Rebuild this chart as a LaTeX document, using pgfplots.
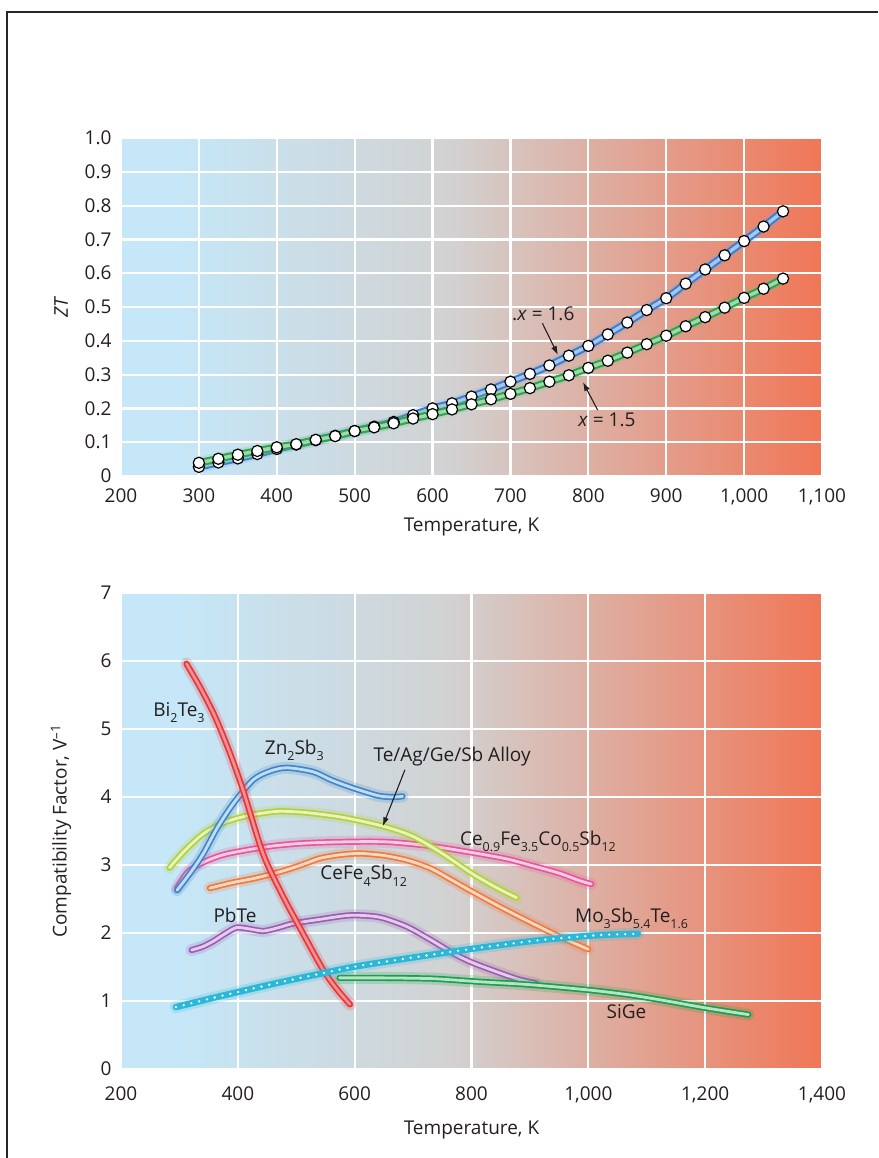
\documentclass[border=0pt]{standalone}
\usepackage{pgfplots}
\pgfplotsset{compat=1.18}
\usepackage{fontspec}
\setmainfont{Open Sans}
\usetikzlibrary{arrows.meta}

\definecolor{bgA}{HTML}{C5E7F8}
\definecolor{bgB}{HTML}{D2D2D2}
\definecolor{bgC}{HTML}{F07656}
\definecolor{txt}{HTML}{231F20}
\definecolor{cBlue}{HTML}{3A80D2}
\definecolor{cGreen}{HTML}{2CA64A}
\definecolor{cRed}{HTML}{E8373A}
\definecolor{cZn}{HTML}{3D86CC}
\definecolor{cYel}{HTML}{B2D234}
\definecolor{cPink}{HTML}{E8559C}
\definecolor{cOr}{HTML}{EF7A3A}
\definecolor{cPur}{HTML}{9D5CB4}
\definecolor{cCy}{HTML}{2BB8D8}
\definecolor{cSi}{HTML}{18A04A}

\pgfdeclarehorizontalshading{bgshade}{100bp}{color(0bp)=(bgA); color(29bp)=(bgA); color(48.5bp)=(bgB); color(75bp)=(bgC); color(100bp)=(bgC)}

\newcommand\sub[1]{\raisebox{-0.32em}{\fontsize{12.5}{12.5}\selectfont#1}}
\newcommand\lbl{\fontsize{19}{22}\selectfont}

\pgfplotsset{
  common/.style={
    scale only axis, width=701pt,
    axis line style={draw=none}, major tick length=0pt,
    grid=major, major grid style={white, line width=2.2pt},
    axis background/.style={shade, shading=bgshade},
    tick label style={font=\lbl, text=txt},
    label style={font=\lbl, text=txt},
    yticklabel style={xshift=-3pt},
    /pgf/number format/assume math mode=true,
    ylabel style={at={(axis description cs:0,0.5)}, anchor=center, yshift=60pt},
    clip=false,
  },
  glow/.style={no marks, smooth, line cap=round, line join=round, draw=#1, line width=12pt, opacity=0.2, forget plot},
  tube/.style={no marks, smooth, line cap=round, line join=round, draw=#1, line width=1.7pt, double=#1!30!white, double distance=2.8pt},
  ttube/.style={no marks, smooth, line cap=round, line join=round, draw=#1, line width=2.1pt, double=#1!45!white, double distance=3.4pt},
  dots/.style={only marks, mark=*, mark size=5.6pt, mark options={fill=white, draw=black, line width=1.2pt}},
}

\pgfplotstableread{
T zt
300 0.027
325 0.040
350 0.052
375 0.065
400 0.080
425 0.093
450 0.106
475 0.119
500 0.133
525 0.146
550 0.160
575 0.180
600 0.200
625 0.215
650 0.235
675 0.256
700 0.279
725 0.302
750 0.327
775 0.356
800 0.385
825 0.419
850 0.454
875 0.491
900 0.526
925 0.569
950 0.611
975 0.653
1000 0.695
1025 0.738
1050 0.783
}\blueSix

\pgfplotstableread{
T zt
300 0.039
325 0.051
350 0.063
375 0.074
400 0.085
425 0.094
450 0.107
475 0.118
500 0.133
525 0.144
550 0.156
575 0.170
600 0.183
625 0.197
650 0.212
675 0.227
700 0.243
725 0.260
750 0.279
775 0.298
800 0.320
825 0.341
850 0.365
875 0.390
900 0.415
925 0.443
950 0.470
975 0.498
1000 0.527
1025 0.554
1050 0.584
}\greenFive

\pgfplotstableread{
T v
312 5.96
335 5.62
360 5.20
385 4.68
409 4.10
443 3.17
475 2.58
508 2.05
546 1.46
570 1.17
592 0.95
}\bite

\pgfplotstableread{
T v
296 2.63
320 2.90
341 3.17
365 3.55
392 3.90
426 4.25
455 4.38
484 4.43
529 4.37
560 4.25
598 4.13
640 4.02
665 4.00
682 4.01
}\znsb

\pgfplotstableread{
T v
283 2.96
310 3.22
341 3.46
375 3.62
409 3.71
440 3.76
472 3.79
518 3.77
580 3.70
649 3.57
700 3.42
750 3.17
800 2.88
840 2.68
877 2.52
}\teag

\pgfplotstableread{
T v
296 2.66
315 2.90
341 3.04
375 3.15
415 3.22
460 3.28
512 3.32
580 3.34
655 3.34
729 3.28
803 3.18
860 3.09
900 3.00
950 2.88
985 2.77
1005 2.72
}\cenine

\pgfplotstableread{
T v
352 2.66
390 2.74
426 2.80
455 2.86
484 2.93
515 3.02
541 3.10
575 3.15
609 3.17
650 3.14
690 3.07
730 2.95
770 2.76
803 2.60
850 2.38
900 2.16
950 1.95
1000 1.76
}\cefe

\pgfplotstableread{
T v
321 1.75
340 1.80
358 1.88
380 2.00
398 2.08
420 2.06
444 2.03
470 2.08
495 2.14
540 2.20
592 2.26
638 2.24
670 2.16
695 2.07
730 1.90
769 1.70
800 1.57
843 1.43
880 1.32
910 1.26
}\pbte

\pgfplotstableread{
T v
294 0.91
350 1.03
404 1.14
475 1.28
546 1.41
603 1.51
700 1.64
803 1.77
912 1.89
1003 1.96
1050 1.98
1085 1.99
}\mosb

\pgfplotstableread{
T v
574 1.34
650 1.34
729 1.33
769 1.31
820 1.28
900 1.24
1003 1.16
1070 1.09
1128 1.01
1200 0.90
1274 0.80
}\sige

\begin{document}
\lbl
\begin{tikzpicture}
\useasboundingbox (0pt,0pt) rectangle (878pt,-1158pt);
\draw[line width=1.3pt, black!85] (7pt,-1158pt) -- (7pt,-12pt) -- (878pt,-12pt);

% ---------- top panel ----------
\begin{axis}[common, at={(121pt,-476pt)}, anchor=south west, height=338pt,
  xmin=200, xmax=1100, ymin=0, ymax=1,
  xtick={200,300,400,500,600,700,800,900,1000,1100},
  xticklabels={200,300,400,500,600,700,800,900,{1,000},{1,100}},
  ytick={0,0.1,0.2,0.3,0.4,0.5,0.6,0.7,0.8,0.9,1},
  yticklabels={0,0.1,0.2,0.3,0.4,0.5,0.6,0.7,0.8,0.9,1.0},
  xticklabel style={yshift=-6pt},
  xlabel style={at={(axis description cs:0.5,0)}, anchor=center, yshift=-51pt},
  xlabel={Temperature, K}, ylabel={\textit{ZT}},
]
\addplot[glow=cBlue!70] table[x=T,y=zt]{\blueSix};
\addplot[ttube=cBlue] table[x=T,y=zt]{\blueSix};
\addplot[glow=cGreen!70] table[x=T,y=zt]{\greenFive};
\addplot[ttube=cGreen] table[x=T,y=zt]{\greenFive};
\addplot[dots] table[x=T,y=zt]{\blueSix};
\addplot[dots] table[x=T,y=zt]{\greenFive};
\node[anchor=base west, text=txt, inner sep=0pt] at (axis cs:702,0.4615) {.\textit{x} = 1.6};
\draw[-{Latex[length=9pt,width=6pt]}, line width=1.1pt, txt] (axis cs:741,0.452) -- (axis cs:761,0.358);
\node[anchor=base west, text=txt, inner sep=0pt] at (axis cs:787,0.146) {\textit{x} = 1.5};
\draw[-{Latex[length=9pt,width=6pt]}, line width=1.1pt, txt] (axis cs:812,0.195) -- (axis cs:793,0.278);
\end{axis}

% ---------- bottom panel ----------
\begin{axis}[common, at={(121pt,-1069pt)}, anchor=south west, height=476pt,
  xmin=200, xmax=1400, ymin=0, ymax=7,
  xtick={200,400,600,800,1000,1200,1400},
  xticklabels={200,400,600,800,{1,000},{1,200},{1,400}},
  ytick={0,1,2,3,4,5,6,7},
  yticklabels={0,1,2,3,4,5,6,7},
  xticklabel style={yshift=-11pt},
  xlabel style={at={(axis description cs:0.5,0)}, anchor=center, yshift=-61pt},
  xlabel={Temperature, K}, ylabel={Compatibility Factor, V\textsuperscript{--1}},
]
\addplot[glow=cPink] table[x=T,y=v]{\cenine};
\addplot[tube=cPink] table[x=T,y=v]{\cenine};
\addplot[glow=cOr] table[x=T,y=v]{\cefe};
\addplot[tube=cOr] table[x=T,y=v]{\cefe};
\addplot[glow=cYel] table[x=T,y=v]{\teag};
\addplot[tube=cYel] table[x=T,y=v]{\teag};
\addplot[glow=cZn] table[x=T,y=v]{\znsb};
\addplot[tube=cZn] table[x=T,y=v]{\znsb};
\addplot[glow=cPur] table[x=T,y=v]{\pbte};
\addplot[tube=cPur] table[x=T,y=v]{\pbte};
\addplot[glow=cSi] table[x=T,y=v]{\sige};
\addplot[tube=cSi] table[x=T,y=v]{\sige};
\addplot[glow=cRed] table[x=T,y=v]{\bite};
\addplot[no marks, smooth, line cap=round, draw=cRed, line width=1.8pt, double=cRed!55!white, double distance=2.6pt] table[x=T,y=v]{\bite};
\addplot[glow=cCy] table[x=T,y=v]{\mosb};
\addplot[no marks, smooth, line cap=round, draw=cCy, line width=6.4pt] table[x=T,y=v]{\mosb};
\addplot[no marks, smooth, line cap=round, draw=white, line width=2.6pt, dash pattern=on 0pt off 8pt] table[x=T,y=v]{\mosb};

\node[anchor=base west, text=txt, inner sep=0pt] at (axis cs:255,5.18) {Bi\sub{2}Te\sub{3}};
\node[anchor=base west, text=txt, inner sep=0pt] at (axis cs:446,4.62) {Zn\sub{2}Sb\sub{3}};
\node[anchor=base west, text=txt, inner sep=0pt] at (axis cs:632,4.52) {Te/Ag/Ge/Sb Alloy};
\draw[-{Latex[length=9pt,width=6pt]}, line width=1.1pt, txt] (axis cs:686,4.40) -- (axis cs:648,3.57);
\node[anchor=base west, text=txt, inner sep=0pt] at (axis cs:780,3.29) {Ce\sub{0.9}Fe\sub{3.5}Co\sub{0.5}Sb\sub{12}};
\node[anchor=base west, text=txt, inner sep=0pt] at (axis cs:541,2.78) {CeFe\sub{4}Sb\sub{12}};
\node[anchor=base west, text=txt, inner sep=0pt] at (axis cs:358,2.15) {PbTe};
\node[anchor=base west, text=txt, inner sep=0pt] at (axis cs:977,2.15) {Mo\sub{3}Sb\sub{5.4}Te\sub{1.6}};
\node[anchor=base west, text=txt, inner sep=0pt] at (axis cs:1031,0.745) {SiGe};
\end{axis}
\end{tikzpicture}
\end{document}
